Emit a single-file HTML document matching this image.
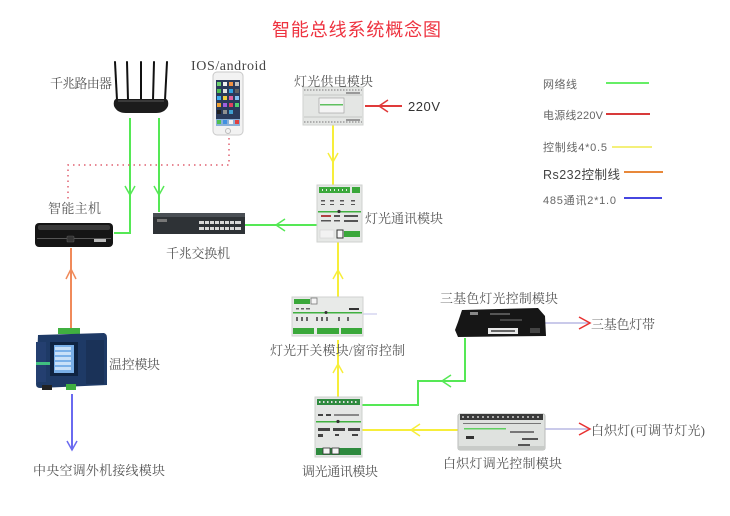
<!DOCTYPE html>
<html>
<head>
<meta charset="utf-8">
<style>
html,body{margin:0;padding:0;background:#fff;}
svg{display:block;}
.lb{font-family:"Liberation Serif","Noto Serif CJK SC",serif;font-size:13px;fill:#555;}
.lg{font-family:"Liberation Sans","Noto Sans CJK SC",sans-serif;font-size:11px;fill:#666;}
</style>
</head>
<body>
<svg width="730" height="516" viewBox="0 0 730 516" xmlns="http://www.w3.org/2000/svg">
<rect width="730" height="516" fill="#fff"/>

<!-- Title -->
<text x="272" y="36" font-family="'Liberation Sans','Noto Sans CJK SC',sans-serif" font-size="18" fill="#ee3340" textLength="169">智能总线系统概念图</text>

<!-- ============ CONNECTORS ============ -->
<g fill="none" stroke-width="2" stroke-linejoin="miter">
  <!-- router -> host -->
  <path d="M130,118 V233 H114" stroke="#55e855"/>
  <path d="M125,186 L130,195 L135,186" stroke="#55e855" stroke-width="1.5"/>
  <!-- router -> switch -->
  <path d="M159,118 V212" stroke="#55e855"/>
  <path d="M154,186 L159,195 L164,186" stroke="#55e855" stroke-width="1.5"/>
  <!-- phone dotted -->
  <path d="M229,138 V165 H68 V200" stroke="#e06070" stroke-width="1.5" stroke-dasharray="1.5 4"/>
  <!-- orange RS232 -->
  <path d="M71,248 V328" stroke="#f08a5a"/>
  <path d="M66,279 L71,269 L76,279" stroke="#f08a5a" stroke-width="1.5"/>
  <!-- blue 485 -->
  <path d="M72,394 V450" stroke="#6a6af0"/>
  <path d="M67,441 L72,450 L77,441" stroke="#6a6af0" stroke-width="1.5"/>
  <!-- comm -> switch -->
  <path d="M317,225 H245" stroke="#55e855"/>
  <path d="M285,219 L276,225 L285,231" stroke="#55e855" stroke-width="1.5"/>
  <!-- 220V -->
  <path d="M365,106 H402" stroke="#e03a3a"/>
  <path d="M388,100 L379,106 L388,112" stroke="#e03a3a" stroke-width="1.5"/>
  <!-- yellow power -> comm -->
  <path d="M333,125 V185" stroke="#f7ee3a"/>
  <path d="M328,153 L333,162 L338,153" stroke="#f7ee3a" stroke-width="1.5"/>
  <!-- yellow comm -> switch module -->
  <path d="M338,242 V297" stroke="#f7ee3a"/>
  <path d="M333,279 L338,270 L343,279" stroke="#f7ee3a" stroke-width="1.5"/>
  <!-- yellow dim comm -> switch module -->
  <path d="M338,397 V340" stroke="#f7ee3a"/>
  <path d="M333,373 L338,364 L343,373" stroke="#f7ee3a" stroke-width="1.5"/>
  <!-- green dim comm -> RGB -->
  <path d="M362,405 H418 V381 H465 V338" stroke="#55e855"/>
  <path d="M451,375 L442,381 L451,387" stroke="#55e855" stroke-width="1.5"/>
  <!-- yellow dimmer -> dim comm -->
  <path d="M460,430 H362" stroke="#f7ee3a"/>
  <path d="M420,424 L411,430 L420,436" stroke="#f7ee3a" stroke-width="1.5"/>
  <!-- outputs -->
  <path d="M545,323 H588" stroke="#b8b8e4" stroke-width="1.5"/>
  <path d="M579,317 L590,323 L579,329" stroke="#e83030" stroke-width="1.5"/>
  <path d="M545,429 H588" stroke="#b8b8e4" stroke-width="1.5"/>
  <path d="M579,423 L590,429 L579,435" stroke="#e83030" stroke-width="1.5"/>
  <!-- stub -->
  <path d="M362,314 H377" stroke="#ccccec" stroke-width="1.2"/>
</g>

<!-- ============ DEVICES ============ -->
<!-- Router -->
<g stroke="#111" stroke-width="2" stroke-linecap="round">
  <line x1="115" y1="62" x2="117" y2="100"/>
  <line x1="127" y1="62" x2="128" y2="100"/>
  <line x1="141" y1="62" x2="141" y2="100"/>
  <line x1="154" y1="62" x2="153" y2="100"/>
  <line x1="167" y1="62" x2="165" y2="100"/>
</g>
<path d="M116,99 L166,99 Q169,100 168,106 Q165,113 156,113 L126,113 Q117,113 114,106 Q113,100 116,99 Z" fill="#1c1c1c"/>
<rect x="118" y="100" width="46" height="2" fill="#3a3a3a"/>

<!-- Phone -->
<rect x="213" y="72" width="30" height="63" rx="4" fill="#f2f2f2" stroke="#c9c9c9"/>
<rect x="216" y="80" width="24" height="46" fill="#2a3a5a"/>
<g>
  <rect x="217" y="82" width="4" height="4" fill="#6cd06c"/><rect x="223" y="82" width="4" height="4" fill="#f0f0f0"/><rect x="229" y="82" width="4" height="4" fill="#f09040"/><rect x="235" y="82" width="4" height="4" fill="#c0c0c0"/>
  <rect x="217" y="89" width="4" height="4" fill="#50c050"/><rect x="223" y="89" width="4" height="4" fill="#e0e0e0"/><rect x="229" y="89" width="4" height="4" fill="#30a0e0"/><rect x="235" y="89" width="4" height="4" fill="#606060"/>
  <rect x="217" y="96" width="4" height="4" fill="#40b0f0"/><rect x="223" y="96" width="4" height="4" fill="#f0d040"/><rect x="229" y="96" width="4" height="4" fill="#e060a0"/><rect x="235" y="96" width="4" height="4" fill="#80c0f0"/>
  <rect x="217" y="103" width="4" height="4" fill="#f0a030"/><rect x="223" y="103" width="4" height="4" fill="#a060e0"/><rect x="229" y="103" width="4" height="4" fill="#e04060"/><rect x="235" y="103" width="4" height="4" fill="#50d070"/>
  <rect x="217" y="110" width="4" height="4" fill="#202020"/><rect x="223" y="110" width="4" height="4" fill="#909090"/><rect x="229" y="110" width="4" height="4" fill="#40a0d0"/>
  <rect x="216" y="119" width="24" height="7" fill="#8ab0d8"/>
  <rect x="217" y="120" width="4" height="4" fill="#50c050"/><rect x="223" y="120" width="4" height="4" fill="#4090e0"/><rect x="229" y="120" width="4" height="4" fill="#f0f0f0"/><rect x="235" y="120" width="4" height="4" fill="#e04040"/>
</g>
<circle cx="228" cy="131" r="2.5" fill="none" stroke="#bbb"/>

<!-- Smart host -->
<rect x="35" y="223" width="78" height="24" rx="4" fill="#151515"/>
<rect x="38" y="225" width="72" height="5" rx="2" fill="#3a3a3a"/>
<rect x="37" y="238" width="74" height="1" fill="#555"/>
<rect x="67" y="236" width="7" height="6" rx="1" fill="#333" stroke="#555" stroke-width="0.6"/>
<rect x="94" y="239" width="12" height="3" fill="#bbb"/>

<!-- Switch -->
<path d="M155,213 L243,213 L245,217 L245,234 L153,234 L153,217 Z" fill="#2e3236"/>
<rect x="153" y="213" width="92" height="4" fill="#4a4f55"/>
<rect x="157" y="219" width="10" height="3" fill="#777"/>
<g fill="#d8d8d8">
  <rect x="199" y="221" width="42" height="3"/>
  <rect x="199" y="227" width="42" height="3"/>
</g>
<g fill="#2e3236">
  <rect x="204" y="221" width="1" height="9"/><rect x="209" y="221" width="1" height="9"/><rect x="214" y="221" width="1" height="9"/><rect x="219" y="221" width="1" height="9"/><rect x="224" y="221" width="1" height="9"/><rect x="229" y="221" width="1" height="9"/><rect x="234" y="221" width="1" height="9"/>
</g>

<!-- Light power module -->
<rect x="303" y="87" width="60" height="38" fill="#e4e6e4" stroke="#cfd1cf"/>
<line x1="304" y1="90" x2="362" y2="90" stroke="#777" stroke-width="1" stroke-dasharray="1.5 1.5"/>
<line x1="304" y1="122" x2="362" y2="122" stroke="#777" stroke-width="1" stroke-dasharray="1.5 1.5"/>
<line x1="304" y1="95" x2="362" y2="95" stroke="#c4c6c4"/>
<line x1="304" y1="117" x2="362" y2="117" stroke="#c4c6c4"/>
<rect x="319" y="98" width="25" height="15" fill="#f4f4f4" stroke="#999" stroke-width="0.6"/>
<rect x="320" y="104" width="23" height="1.5" fill="#60c060"/>
<rect x="346" y="92" width="14" height="2" fill="#999"/>
<rect x="346" y="119" width="14" height="2" fill="#999"/>

<!-- Light comm module -->
<rect x="317" y="185" width="45" height="57" fill="#e6e8e6" stroke="#cfd1cf"/>
<rect x="319" y="187" width="31" height="6" fill="#3aa83a"/>
<rect x="352" y="187" width="8" height="6" fill="#3aa83a"/>
<g fill="#e6e8e6"><rect x="322" y="189" width="1" height="2"/><rect x="326" y="189" width="1" height="2"/><rect x="330" y="189" width="1" height="2"/><rect x="334" y="189" width="1" height="2"/><rect x="338" y="189" width="1" height="2"/><rect x="342" y="189" width="1" height="2"/><rect x="346" y="189" width="1" height="2"/></g>
<g fill="#555"><rect x="321" y="200" width="4" height="1.5"/><rect x="330" y="200" width="4" height="1.5"/><rect x="340" y="200" width="4" height="1.5"/><rect x="351" y="200" width="4" height="1.5"/>
<rect x="321" y="204" width="4" height="1"/><rect x="330" y="204" width="4" height="1"/><rect x="340" y="204" width="4" height="1"/><rect x="351" y="204" width="4" height="1"/></g>
<rect x="318" y="211" width="43" height="1.5" fill="#40b040"/>
<circle cx="339" cy="211.5" r="1.6" fill="#333"/>
<g fill="#555"><rect x="321" y="215" width="10" height="2" fill="#b04040"/><rect x="334" y="215" width="6" height="2"/><rect x="344" y="215" width="14" height="2"/>
<rect x="321" y="220" width="10" height="1.5"/><rect x="334" y="220" width="6" height="1.5"/><rect x="344" y="220" width="14" height="2"/></g>
<rect x="320" y="230" width="14" height="8" fill="#f2f2f2" stroke="#ccc" stroke-width="0.5"/>
<rect x="337" y="230" width="6" height="8" fill="#f8f8f8" stroke="#333" stroke-width="1"/>
<rect x="344" y="231" width="16" height="6" fill="#3aa83a"/>

<!-- Light switch / curtain module -->
<rect x="292" y="297" width="71" height="39" fill="#e8eae8" stroke="#d0d2d0"/>
<rect x="294" y="299" width="16" height="5" fill="#3aa83a"/>
<rect x="311" y="298" width="6" height="6" fill="#f4f4f4" stroke="#777" stroke-width="0.8"/>
<g fill="#666"><rect x="296" y="308" width="3" height="1.5"/><rect x="301" y="308" width="3" height="1.5"/><rect x="306" y="308" width="4" height="1.5"/><rect x="349" y="308" width="10" height="2" fill="#333"/></g>
<rect x="293" y="312" width="69" height="1.5" fill="#40b040"/>
<circle cx="326" cy="312.5" r="1.5" fill="#333"/>
<g fill="#666">
  <rect x="296" y="317" width="2" height="4"/><rect x="301" y="317" width="2" height="4"/><rect x="306" y="317" width="2" height="4"/>
  <rect x="316" y="317" width="2" height="4"/><rect x="321" y="317" width="2" height="4"/><rect x="326" y="317" width="2" height="4"/>
  <rect x="338" y="317" width="2" height="4"/><rect x="347" y="317" width="2" height="4"/>
</g>
<rect x="293" y="328" width="21" height="6" fill="#3aa83a"/>
<rect x="317" y="328" width="22" height="6" fill="#3aa83a"/>
<rect x="341" y="328" width="21" height="6" fill="#3aa83a"/>

<!-- Dimming comm module -->
<rect x="315" y="397" width="47" height="60" fill="#e4e6e4" stroke="#cdd0cd"/>
<rect x="317" y="399" width="43" height="6" fill="#2e8a3e"/>
<g fill="#e0e0e0"><rect x="319" y="401" width="1.5" height="2"/><rect x="323" y="401" width="1.5" height="2"/><rect x="327" y="401" width="1.5" height="2"/><rect x="331" y="401" width="1.5" height="2"/><rect x="335" y="401" width="1.5" height="2"/><rect x="339" y="401" width="1.5" height="2"/><rect x="343" y="401" width="1.5" height="2"/><rect x="347" y="401" width="1.5" height="2"/><rect x="351" y="401" width="1.5" height="2"/><rect x="355" y="401" width="1.5" height="2"/></g>
<g fill="#444"><rect x="318" y="414" width="5" height="2"/><rect x="326" y="414" width="5" height="2"/><rect x="334" y="414" width="25" height="2" fill="#888"/></g>
<rect x="316" y="421" width="45" height="1.5" fill="#40b040"/>
<circle cx="338" cy="421.5" r="1.6" fill="#333"/>
<g fill="#444"><rect x="318" y="428" width="12" height="3"/><rect x="333" y="428" width="12" height="3"/><rect x="348" y="428" width="12" height="3"/>
<rect x="318" y="434" width="5" height="3"/><rect x="335" y="434" width="4" height="2"/><rect x="352" y="434" width="6" height="2"/></g>
<rect x="316" y="448" width="45" height="7" fill="#2e8a3e"/>
<rect x="323" y="448" width="7" height="6" fill="#f4f4f4" stroke="#333" stroke-width="0.8"/>
<rect x="332" y="448" width="7" height="6" fill="#f4f4f4" stroke="#333" stroke-width="0.8"/>

<!-- Temperature control module -->
<rect x="58" y="328" width="22" height="6" fill="#40b040"/>
<path d="M38,335 L104,333 Q107,334 107,338 L107,385 L40,388 Q36,388 36,384 Z" fill="#1e3a66"/>
<rect x="36" y="342" width="10" height="40" fill="#243f70"/>
<rect x="86" y="340" width="18" height="44" fill="#1a3258"/>
<rect x="50" y="342" width="28" height="34" fill="#0f2442"/>
<rect x="54" y="345" width="20" height="28" fill="#7ab0e8"/>
<g fill="#c8e0f8"><rect x="55" y="347" width="16" height="3"/><rect x="55" y="352" width="16" height="3"/><rect x="55" y="357" width="16" height="3"/><rect x="55" y="362" width="16" height="3"/><rect x="55" y="367" width="16" height="3"/></g>
<rect x="36" y="362" width="14" height="3" fill="#40c080"/>
<rect x="66" y="384" width="10" height="6" fill="#40b040"/>
<rect x="42" y="385" width="10" height="5" fill="#222"/>

<!-- RGB controller -->
<path d="M462,310 L538,308 L545,316 L546,336 L458,337 L455,330 L458,322 Z" fill="#161616"/>
<rect x="470" y="312" width="8" height="3" fill="#888"/>
<rect x="490" y="313" width="20" height="2" fill="#555"/>
<rect x="500" y="319" width="22" height="2" fill="#444"/>
<rect x="488" y="328" width="30" height="6" fill="#e8e8e8"/>
<rect x="491" y="330" width="24" height="2" fill="#666"/>
<rect x="530" y="328" width="10" height="5" fill="#444"/>

<!-- Incandescent dimmer -->
<rect x="458" y="414" width="87" height="36" rx="2" fill="#dfe2df" stroke="#b8bbb8"/>
<rect x="460" y="414" width="83" height="6" fill="#3a3a3a"/>
<g fill="#aaa"><rect x="462" y="416" width="2" height="2"/><rect x="467" y="416" width="2" height="2"/><rect x="472" y="416" width="2" height="2"/><rect x="477" y="416" width="2" height="2"/><rect x="482" y="416" width="2" height="2"/><rect x="487" y="416" width="2" height="2"/><rect x="492" y="416" width="2" height="2"/><rect x="497" y="416" width="2" height="2"/><rect x="502" y="416" width="2" height="2"/><rect x="507" y="416" width="2" height="2"/><rect x="512" y="416" width="2" height="2"/><rect x="517" y="416" width="2" height="2"/><rect x="522" y="416" width="2" height="2"/><rect x="527" y="416" width="2" height="2"/><rect x="532" y="416" width="2" height="2"/><rect x="537" y="416" width="2" height="2"/></g>
<rect x="463" y="423" width="78" height="1" fill="#777"/>
<rect x="464" y="428" width="42" height="1.5" fill="#60d060"/>
<rect x="510" y="431" width="24" height="2" fill="#777"/>
<rect x="466" y="436" width="8" height="3" fill="#333"/>
<rect x="522" y="438" width="16" height="2" fill="#555"/>
<rect x="518" y="444" width="12" height="4" fill="#555"/>
<rect x="458" y="446" width="87" height="4" fill="#c8cbc8"/>

<!-- ============ LABELS ============ -->
<text class="lb" x="50" y="88" textLength="62">千兆路由器</text>
<text x="191" y="70" font-family="'Liberation Serif',serif" font-size="14" fill="#444" textLength="75">IOS/android</text>
<text class="lb" x="294" y="86" textLength="79">灯光供电模块</text>
<text x="408" y="111" font-family="'Liberation Sans',sans-serif" font-size="13" fill="#333" textLength="32">220V</text>
<text class="lb" x="48" y="213" textLength="53">智能主机</text>
<text class="lb" x="166" y="258" textLength="64">千兆交换机</text>
<text class="lb" x="365" y="223" textLength="78">灯光通讯模块</text>
<text class="lb" x="270" y="355" textLength="135">灯光开关模块/窗帘控制</text>
<text class="lb" x="109" y="369" textLength="51">温控模块</text>
<text class="lb" x="33" y="475" textLength="132">中央空调外机接线模块</text>
<text class="lb" x="302" y="476" textLength="76">调光通讯模块</text>
<text class="lb" x="440" y="303" textLength="118">三基色灯光控制模块</text>
<text class="lb" x="591" y="329" textLength="64">三基色灯带</text>
<text class="lb" x="591" y="435" textLength="114">白炽灯(可调节灯光)</text>
<text class="lb" x="443" y="468" textLength="119">白炽灯调光控制模块</text>

<!-- ============ LEGEND ============ -->
<text class="lg" x="543" y="88" textLength="34">网络线</text>
<line x1="606" y1="83" x2="649" y2="83" stroke="#66ee66" stroke-width="2"/>
<text class="lg" x="543" y="119" textLength="60">电源线220V</text>
<line x1="606" y1="114" x2="650" y2="114" stroke="#d83a3a" stroke-width="2"/>
<text class="lg" x="543" y="151" textLength="64">控制线4*0.5</text>
<line x1="612" y1="147" x2="652" y2="147" stroke="#f4f07a" stroke-width="2"/>
<text x="543" y="179" font-family="'Liberation Sans','Noto Sans CJK SC',sans-serif" font-size="12.5" fill="#444" textLength="77">Rs232控制线</text>
<line x1="624" y1="172" x2="663" y2="172" stroke="#e8883a" stroke-width="2"/>
<text class="lg" x="543" y="204" textLength="73">485通讯2*1.0</text>
<line x1="624" y1="198" x2="662" y2="198" stroke="#4646e0" stroke-width="2"/>
</svg>
</body>
</html>
